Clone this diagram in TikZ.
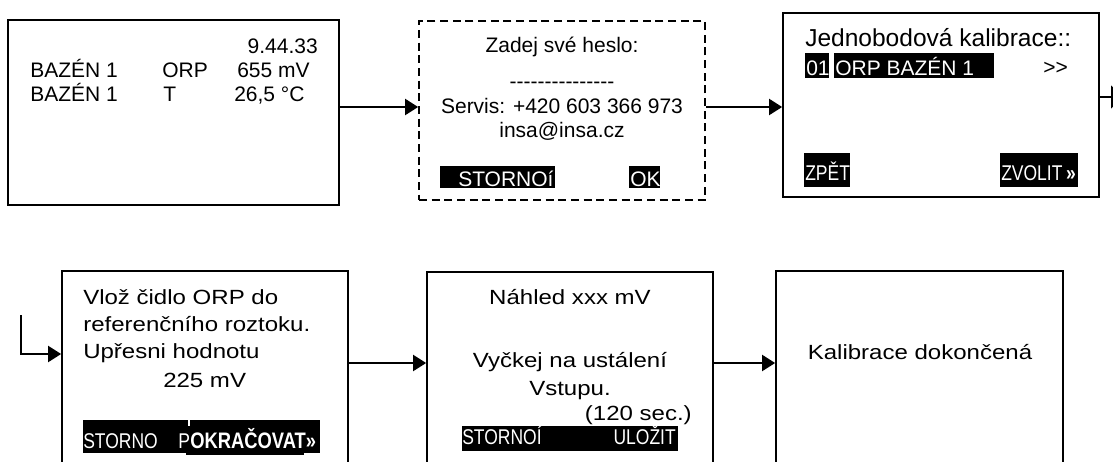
\documentclass[tikz,border=0pt]{standalone}
\usepackage{fontspec}
\setmainfont{Liberation Sans}
\newfontfamily\narrowfont[FakeStretch=0.82]{Liberation Sans}
\newfontfamily\widefont[FakeStretch=1.17]{Liberation Sans}
\usetikzlibrary{arrows.meta,fit}
\newcommand\topsz{\fontsize{15.75}{18}\selectfont}
\newcommand\titlesz{\fontsize{18.4}{21}\selectfont}
\newcommand\botsz{\widefont\fontsize{15.4}{18}\selectfont}
\newcommand\narsz{\narrowfont\fontsize{16}{18}\selectfont}
% plain hyphens and angle brackets, kept apart so no ligature joins them
\newcommand\hy{-\kern0pt}
\begin{document}
\begin{tikzpicture}[x=0.75pt,y=-0.75pt,
  screen/.style={draw=black,line width=1.3pt,inner sep=0pt,fill=none},
  dscreen/.style={screen,dash pattern=on 6pt off 3.5pt},
  bar/.style={fill=black,inner sep=0pt},
  tl/.style={inner sep=0pt,anchor=base west},
  tc/.style={inner sep=0pt,anchor=base},
  tr/.style={inner sep=0pt,anchor=base east},
  inv/.style={text=white},
  flow/.style={line width=1.5pt,-{Triangle[length=9.75pt,width=12pt]}}]
\useasboundingbox (0,0) rectangle (1113,461);
\clip (0,0) rectangle (1113,461);
\fill[white] (0,0) rectangle (1113,461);

% ---- screen 1: measured values
\node[screen,fit={(8,20) (339,205)}] (b1) {};
\node[tr,font=\topsz] (t1a) at (318,53) {9.44.33};
\node[tl,font=\topsz] (t1b) at (30,77) {BAZÉN 1};
\node[tl,font=\topsz] (t1c) at (162,77) {ORP};
\node[tl,font=\topsz] (t1d) at (237,77) {655 mV};
\node[tl,font=\topsz] (t1e) at (30,101) {BAZÉN 1};
\node[tl,font=\topsz] (t1f) at (163,101) {T};
\node[tl,font=\topsz] (t1g) at (234,101) {26,5 °C};

% ---- screen 2: password
\node[dscreen,fit={(419,21) (705,200)}] (b2) {};
\node[tc,font=\topsz] (t2a) at (562,52) {Zadej své heslo:};
\node[tc,font=\topsz] (t2b) at (562,88) {\hy\hy\hy\hy\hy\hy\hy\hy\hy\hy\hy\hy\hy\hy-};
\node[tc,font=\topsz] (t2c) at (562,113) {Servis: +420 603 366 973};
\node[tc,font=\topsz] (t2d) at (562,137) {insa@insa.cz};
\node[bar,fit={(440,166) (555,188)}] (k2a) {};
\node[tl,inv,font=\topsz] (t2e) at (458,186) {STORNOí};
\node[bar,fit={(629,166) (660,188)}] (k2b) {};
\node[tl,inv,font=\topsz] (t2f) at (630,186) {OK};

% ---- screen 3: one-point calibration
\node[screen,fit={(783,13) (1099,197)}] (b3) {};
\node[tl,font=\titlesz] (t3a) at (805,46) {Jednobodová kalibrace::};
\node[bar,fit={(805,53) (829,78)}] (k3a) {};
\node[tl,inv,font=\topsz] (t3b) at (806,75) {01};
\node[bar,fit={(834,53) (994,78)}] (k3b) {};
\node[tl,inv,font=\topsz] (t3c) at (835,75) {ORP BAZÉN 1};
\node[tl,font=\topsz] (t3d) at (1043,74) {>\kern0pt>};
\node[bar,fit={(804,153) (850,187)}] (k3c) {};
\node[tl,inv,font=\narsz] (t3e) at (805,180) {ZPĚT};
\node[bar,fit={(1000,153) (1078,187)}] (k3d) {};
\node[tl,inv,font=\narsz] (t3f) at (1001,180) {ZVOLIT\,{\bfseries »}};

% ---- screen 4: insert probe
\node[screen,fit={(62,271) (348,500)}] (b4) {};
\node[tl,font=\botsz] (t4a) at (83,304) {Vlož čidlo ORP do};
\node[tl,font=\botsz] (t4b) at (83,331) {referenčního roztoku.};
\node[tl,font=\botsz] (t4c) at (83,358) {Upřesni hodnotu};
\node[tl,font=\botsz] (t4d) at (163,387) {225 mV};
\node[bar,fit={(83,420) (188,453)}] (k4a) {};
\node[bar,fit={(189.5,420) (320,453)}] (k4b) {};
\node[bar,fit={(186,426) (304,455)}] (k4c) {};
\node[tl,inv,font=\narsz] (t4e) at (83,448) {STORNO};
\node[tl,inv,font=\narsz] (t4f) at (178,448) {P};
\node[tl,inv,font=\narrowfont\fontsize{16.8}{18}\selectfont\bfseries] (t4g) at (190,448) {OKRAČOVAT»};

% ---- screen 5: waiting for a stable input
\node[screen,fit={(427,272) (713,500)}] (b5) {};
\node[tc,font=\botsz] (t5a) at (570,304) {Náhled xxx mV};
\node[tc,font=\botsz] (t5b) at (570,367) {Vyčkej na ustálení};
\node[tc,font=\botsz] (t5c) at (570,395) {Vstupu.};
\node[tr,font=\botsz] (t5d) at (692,420) {(120 sec.)};
\node[bar,fit={(462,426) (678,451)}] (k5a) {};
\node[tl,inv,font=\narsz] (t5e) at (462,444) {STORNOÍ};
\node[tr,inv,font=\narsz] (t5f) at (676,444) {ULOŽIT};

% ---- screen 6: done
\node[screen,fit={(776,271) (1063,500)}] (b6) {};
\node[tc,font=\botsz] (t6a) at (920,359) {Kalibrace dokončená};

% ---- connectors
\coordinate (wrapR) at (1124,97);
\coordinate (wrapL) at (21,315);
\draw[flow] (b1.east |- 0,107) -- (b2.west |- 0,107);
\draw[flow] (b2.east |- 0,107) -- (b3.west |- 0,107);
\draw[line width=1.5pt,-{Triangle[length=9.75pt,width=17pt]}] (b3.east |- 0,97) -- (wrapR);
\draw[flow] (wrapL) |- (b4.west |- 0,354);
\draw[flow] (b4.east |- 0,363) -- (b5.west |- 0,363);
\draw[flow] (b5.east |- 0,363) -- (b6.west |- 0,363);
\end{tikzpicture}
\end{document}
